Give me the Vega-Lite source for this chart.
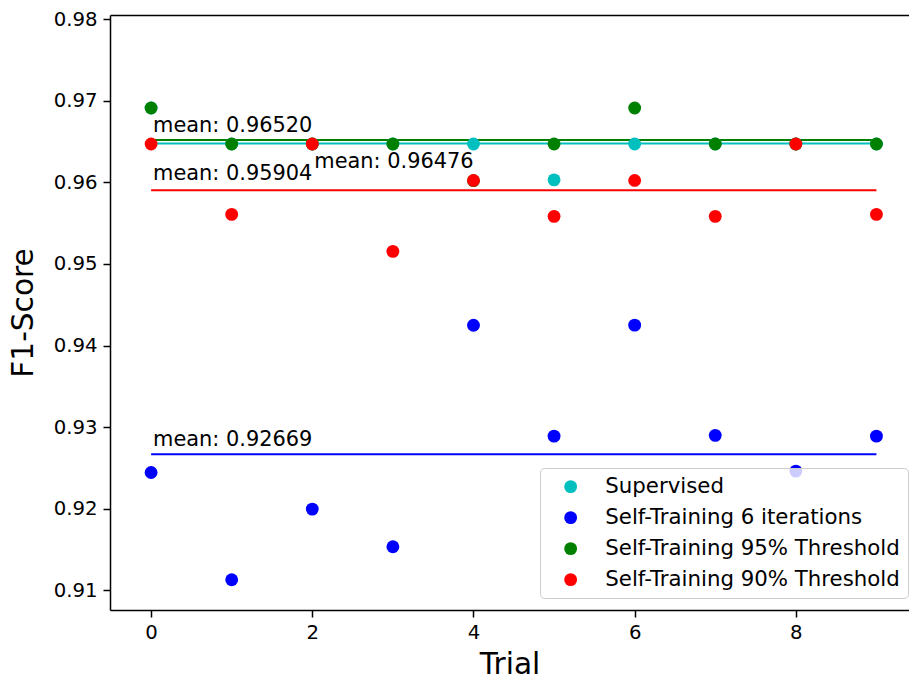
{
  "$schema": "https://vega.github.io/schema/vega-lite/v6.json",
  "autosize": {"type": "none"},
  "padding": {"left": 110, "top": 15, "right": 0, "bottom": 71},
  "width": 799,
  "height": 595,
  "background": "white",
  "datasets": {
    "pts": [
      {"trial": 0, "f1": 0.9691, "series": "Supervised"},
      {"trial": 1, "f1": 0.9647, "series": "Supervised"},
      {"trial": 2, "f1": 0.9647, "series": "Supervised"},
      {"trial": 3, "f1": 0.9647, "series": "Supervised"},
      {"trial": 4, "f1": 0.9647, "series": "Supervised"},
      {"trial": 5, "f1": 0.9603, "series": "Supervised"},
      {"trial": 6, "f1": 0.9647, "series": "Supervised"},
      {"trial": 7, "f1": 0.9647, "series": "Supervised"},
      {"trial": 8, "f1": 0.9647, "series": "Supervised"},
      {"trial": 9, "f1": 0.9647, "series": "Supervised"},
      {"trial": 0, "f1": 0.92445, "series": "Self-Training 6 iterations"},
      {"trial": 1, "f1": 0.91131, "series": "Self-Training 6 iterations"},
      {"trial": 2, "f1": 0.91996, "series": "Self-Training 6 iterations"},
      {"trial": 3, "f1": 0.91535, "series": "Self-Training 6 iterations"},
      {"trial": 4, "f1": 0.94249, "series": "Self-Training 6 iterations"},
      {"trial": 5, "f1": 0.9289, "series": "Self-Training 6 iterations"},
      {"trial": 6, "f1": 0.9425, "series": "Self-Training 6 iterations"},
      {"trial": 7, "f1": 0.929, "series": "Self-Training 6 iterations"},
      {"trial": 8, "f1": 0.92462, "series": "Self-Training 6 iterations"},
      {"trial": 9, "f1": 0.9289, "series": "Self-Training 6 iterations"},
      {"trial": 0, "f1": 0.9691, "series": "Self-Training 95% Threshold"},
      {"trial": 1, "f1": 0.9647, "series": "Self-Training 95% Threshold"},
      {"trial": 2, "f1": 0.9647, "series": "Self-Training 95% Threshold"},
      {"trial": 3, "f1": 0.9647, "series": "Self-Training 95% Threshold"},
      {"trial": 4, "f1": 0.9602, "series": "Self-Training 95% Threshold"},
      {"trial": 5, "f1": 0.9647, "series": "Self-Training 95% Threshold"},
      {"trial": 6, "f1": 0.9691, "series": "Self-Training 95% Threshold"},
      {"trial": 7, "f1": 0.9647, "series": "Self-Training 95% Threshold"},
      {"trial": 8, "f1": 0.9647, "series": "Self-Training 95% Threshold"},
      {"trial": 9, "f1": 0.9647, "series": "Self-Training 95% Threshold"},
      {"trial": 0, "f1": 0.9647, "series": "Self-Training 90% Threshold"},
      {"trial": 1, "f1": 0.95607, "series": "Self-Training 90% Threshold"},
      {"trial": 2, "f1": 0.9647, "series": "Self-Training 90% Threshold"},
      {"trial": 3, "f1": 0.95154, "series": "Self-Training 90% Threshold"},
      {"trial": 4, "f1": 0.96023, "series": "Self-Training 90% Threshold"},
      {"trial": 5, "f1": 0.95583, "series": "Self-Training 90% Threshold"},
      {"trial": 6, "f1": 0.96023, "series": "Self-Training 90% Threshold"},
      {"trial": 7, "f1": 0.95583, "series": "Self-Training 90% Threshold"},
      {"trial": 8, "f1": 0.9647, "series": "Self-Training 90% Threshold"},
      {"trial": 9, "f1": 0.95607, "series": "Self-Training 90% Threshold"}
    ],
    "means": [
      {"x0": 0, "x1": 9, "mean": 0.96476, "series": "Supervised"},
      {"x0": 0, "x1": 9, "mean": 0.92669, "series": "Self-Training 6 iterations"},
      {"x0": 0, "x1": 9, "mean": 0.9652, "series": "Self-Training 95% Threshold"},
      {"x0": 0, "x1": 9, "mean": 0.95904, "series": "Self-Training 90% Threshold"}
    ],
    "labels": [
      {"x": 0, "y": 0.9662, "text": "mean: 0.96520"},
      {"x": 2, "y": 0.9617, "text": "mean: 0.96476"},
      {"x": 0, "y": 0.9603, "text": "mean: 0.95904"},
      {"x": 0, "y": 0.9277, "text": "mean: 0.92669"}
    ]
  },
  "resolve": {"axis": {"x": "independent"}},
  "layer": [
    {
      "data": {"name": "means"},
      "mark": {"type": "rule", "strokeWidth": 2},
      "encoding": {
        "x": {
          "field": "x0", "type": "quantitative", "scale": {"domain": [-0.51, 9.404], "nice": false, "zero": false},
          "axis": {"orient": "top", "labels": false, "ticks": false, "title": null, "domain": true}
        },
        "x2": {"field": "x1"},
        "y": {"field": "mean", "type": "quantitative"},
        "color": {
          "field": "series", "type": "nominal",
          "scale": {
            "domain": ["Supervised", "Self-Training 6 iterations", "Self-Training 95% Threshold", "Self-Training 90% Threshold"],
            "range": ["#00BFBF", "#0000FF", "#008000", "#FF0000"]
          }
        }
      }
    },
    {
      "data": {"name": "pts"},
      "mark": {"type": "point", "filled": true, "opacity": 1, "size": 165, "shape": "circle"},
      "encoding": {
        "x": {
          "field": "trial", "type": "quantitative", "title": "Trial",
          "scale": {"domain": [-0.51, 9.404], "nice": false, "zero": false},
          "axis": {"orient": "bottom", "values": [0, 2, 4, 6, 8], "format": "d", "titlePadding": 9, "labelPadding": 5}
        },
        "y": {
          "field": "f1", "type": "quantitative", "title": "F1-Score",
          "scale": {"domain": [0.9076, 0.9805], "nice": false, "zero": false},
          "axis": {"values": [0.91, 0.92, 0.93, 0.94, 0.95, 0.96, 0.97, 0.98], "format": ".2f", "titlePadding": 15, "labelPadding": 6}
        },
        "color": {
          "field": "series", "type": "nominal",
          "scale": {
            "domain": ["Supervised", "Self-Training 6 iterations", "Self-Training 95% Threshold", "Self-Training 90% Threshold"],
            "range": ["#00BFBF", "#0000FF", "#008000", "#FF0000"]
          },
          "legend": {
            "title": null,
            "orient": "none",
            "legendX": 430,
            "legendY": 453,
            "symbolType": "circle",
            "symbolSize": 165,
            "symbolStrokeWidth": 0,
            "symbolOpacity": 1,
            "symbolOffset": 12,
            "labelOffset": 24,
            "padding": 8,
            "rowPadding": 9,
            "fillColor": "rgba(255,255,255,0.8)",
            "strokeColor": "#cccccc",
            "cornerRadius": 4,
            "labelFont": "DejaVu Sans",
            "labelFontSize": 21.3,
            "labelColor": "#000000",
            "labelLimit": 500
          }
        }
      }
    },
    {
      "data": {"name": "labels"},
      "mark": {"type": "text", "align": "left", "baseline": "alphabetic", "font": "DejaVu Sans", "fontSize": 20.9, "color": "#000000", "dx": 2},
      "encoding": {
        "x": {"field": "x", "type": "quantitative", "axis": null},
        "y": {"field": "y", "type": "quantitative"},
        "text": {"field": "text"}
      }
    }
  ],
  "config": {
    "view": {"stroke": null},
    "axis": {
      "grid": false,
      "labelFont": "DejaVu Sans",
      "labelFontSize": 19.7,
      "labelColor": "#000000",
      "tickColor": "#000000",
      "tickSize": 7,
      "tickWidth": 1.5,
      "domainColor": "#000000",
      "domainWidth": 1.5,
      "titleFont": "DejaVu Sans",
      "titleFontSize": 29.6,
      "titleFontWeight": "normal",
      "titleColor": "#000000"
    }
  }
}
